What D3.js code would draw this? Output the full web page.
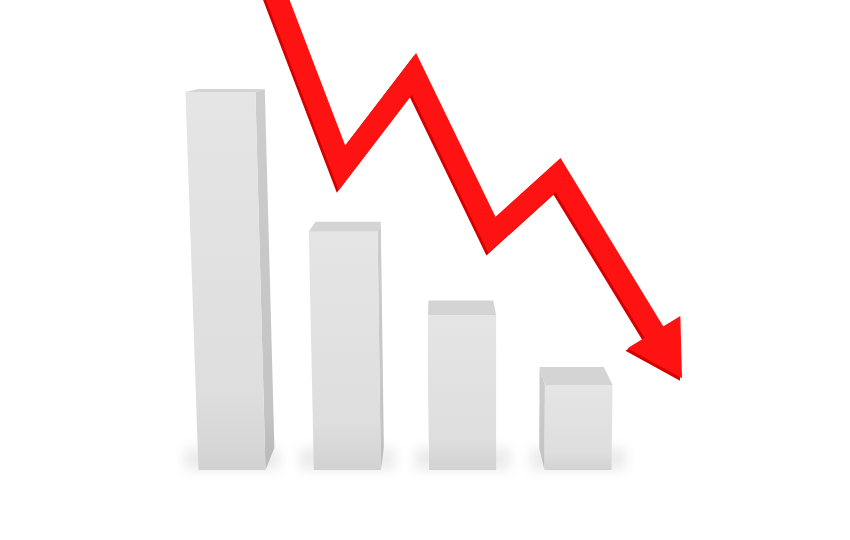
<!DOCTYPE html>
<html><head><meta charset="utf-8">
<script src="https://cdn.jsdelivr.net/npm/d3@7"></script>
<style>html,body{margin:0;padding:0;background:#fff;overflow:hidden}</style>
</head><body>
<svg id="c" width="850" height="540"></svg>
<script>
// Data
const categories = ["1", "2", "3", "4"];
const barValues = [100, 63, 41, 22.5];
// arrow path: position along the category axis (index units) and value
const arrowPos = [0.364, 0.954, 1.578, 2.254, 2.827, 3.902];
const arrowVal = [127.0, 79.9, 104.8, 62.2, 78.0, 24.3];

const W = 850, H = 540;
const svg = d3.select("#c");
const x = d3.scalePoint().domain(categories).range([232, 578]);
const xl = d3.scaleLinear().domain([0, 3]).range([232, 578]);
const y = d3.scaleLinear().domain([0, 100]).range([470, 92]);
const barW = 67;
const vpV = [499, 9200];          // vertical vanishing point (camera looks down)
const vpD = [440, 32], depth = 0.051; // depth vanishing point

const defs = svg.append("defs");
function grad(id, stops) {
  const g = defs.append("linearGradient").attr("id", id).attr("x1", 0).attr("y1", 0).attr("x2", 0).attr("y2", 1);
  stops.forEach(s => g.append("stop").attr("offset", s[0]).attr("stop-color", s[1]));
}
grad("front", [["0%", "#e5e5e5"], ["80%", "#dedede"], ["100%", "#d2d2d2"]]);
grad("side", [["0%", "#cdcdcd"], ["85%", "#c4c4c4"], ["100%", "#b8b8b8"]]);
defs.append("filter").attr("id", "blur").attr("x", "-50%").attr("y", "-100%").attr("width", "200%").attr("height", "300%")
  .append("feGaussianBlur").attr("stdDeviation", 6);

svg.append("rect").attr("width", W).attr("height", H).attr("fill", "#fff");

const back = p => [p[0] + (vpD[0] - p[0]) * depth, p[1] + (vpD[1] - p[1]) * depth];
const poly = pts => "M" + pts.map(p => p.map(v => v.toFixed(2)).join(",")).join("L") + "Z";
const up = (xb, bot, top) => vpV[0] + (xb - vpV[0]) * (vpV[1] - top) / (vpV[1] - bot);

const bars = categories.map((c, i) => {
  const cx = x(c), bot = y(0), top = y(barValues[i]);
  const x0b = cx - barW / 2, x1b = cx + barW / 2;
  const TL = [up(x0b, bot, top), top], TR = [up(x1b, bot, top), top];
  const BL = [x0b, bot], BR = [x1b, bot];
  return {cx, TL, TR, BL, BR};
});

// soft floor shadows / occlusion
svg.append("g").selectAll("rect").data(bars).join("rect")
  .attr("x", d => d.BL[0] - 14).attr("y", d => d.BL[1] - 22)
  .attr("width", barW + 28).attr("height", 22)
  .attr("fill", "#c8c8c8").attr("opacity", 0.35).attr("filter", "url(#blur)");

const bg = svg.append("g").selectAll("g").data(bars).join("g");
// side face
bg.append("path").attr("d", d => {
  const right = d.cx < vpD[0];
  const a = right ? d.TR : d.TL, b = right ? d.BR : d.BL;
  return poly([a, back(a), back(b), b]);
}).attr("fill", "url(#side)");
// top face
bg.append("path").attr("d", d => poly([d.TL, d.TR, back(d.TR), back(d.TL)])).attr("fill", "#d4d4d4");
// front face
bg.append("path").attr("d", d => poly([d.TL, d.TR, d.BR, d.BL])).attr("fill", "url(#front)");

// arrow
const pts = arrowPos.map((p, i) => [xl(p), y(arrowVal[i])]);
const tip = pts[pts.length - 1], prev = pts[pts.length - 2];
const dx = tip[0] - prev[0], dy = tip[1] - prev[1], len = Math.hypot(dx, dy);
const ux = dx / len, uy = dy / len, headLen = 54, headHalf = 31;
const baseMid = [tip[0] - ux * headLen, tip[1] - uy * headLen];
const shaft = pts.slice(0, -1).concat([[baseMid[0] + ux * 4, baseMid[1] + uy * 4]]);
const head = [tip, [baseMid[0] - uy * headHalf, baseMid[1] + ux * headHalf], [baseMid[0] + uy * headHalf, baseMid[1] - ux * headHalf]];
const line = d3.line();
const ag = svg.append("g");
// darker thickness edge
ag.append("path").attr("d", line(shaft)).attr("fill", "none").attr("stroke", "#d40000")
  .attr("stroke-width", 22).attr("stroke-linejoin", "miter").attr("stroke-miterlimit", 10)
  .attr("transform", "translate(-2,2.5)");
ag.append("path").attr("d", poly(head)).attr("fill", "#d40000").attr("transform", "translate(-2,2.5)");
ag.append("path").attr("d", line(shaft)).attr("fill", "none").attr("stroke", "#ff1212")
  .attr("stroke-width", 22).attr("stroke-linejoin", "miter").attr("stroke-miterlimit", 10);
ag.append("path").attr("d", poly(head)).attr("fill", "#ff1212");
</script>
</body></html>
